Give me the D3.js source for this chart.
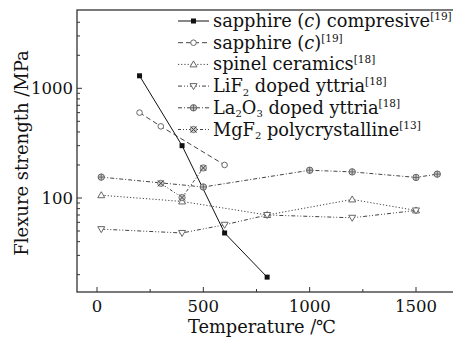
<!DOCTYPE html>
<html>
<head>
<meta charset="utf-8">
<style>
  body { margin: 0; background: #fff; }
  svg { display: block; }
  text { font-family: "DejaVu Serif", "Liberation Serif", serif; fill: #111; }
</style>
<script src="https://cdn.jsdelivr.net/npm/d3@7"></script>
</head>
<body>
<svg id="main"></svg>
<script>
  // data (temperature in C, strength in MPa)
  const compT = [200, 400, 600, 800]
  const compS = [1300, 300, 48, 19]
  const sappT = [200, 300, 600]
  const sappS = [600, 450, 200]
  const spinelT = [20, 400, 800, 1200, 1500]
  const spinelS = [106, 93, 70, 97, 77]
  const lifT = [20, 400, 600, 800, 1200, 1500]
  const lifS = [52, 48, 57, 70, 66, 77]
  const laT = [20, 500, 1000, 1200, 1500, 1600]
  const laS = [155, 126, 179, 173, 154, 165]
  const mgT = [300, 400, 500]
  const mgS = [136, 101, 188]

  const xTicks = [0, 500, 1000, 1500]
  const yTicks = [100, 1000]

  const width = 453, height = 337
  const svg = d3.select("#main").attr("width", width).attr("height", height)

  const x = d3.scaleLinear().domain([0, 1500]).range([97, 416])
  const y = d3.scaleLog().domain([100, 1000]).range([198, 88.3])
  const pLeft = 77, pRight = 470, pTop = 10, pBottom = 292

  const series = [
    {T: compT, S: compS, dash: null, marker: "square", label: ["sapphire (", "c", ") compresive"], ref: "[19]"},
    {T: sappT, S: sappS, dash: "5,3", marker: "circle", label: ["sapphire (", "c", ")"], ref: "[19]"},
    {T: spinelT, S: spinelS, dash: "1.2,2", marker: "tri", label: ["spinel ceramics"], ref: "[18]"},
    {T: lifT, S: lifS, dash: "4,2,1,2,1,2", marker: "tridown", label: ["LiF", "2", " doped yttria"], ref: "[18]", sub: true},
    {T: laT, S: laS, dash: "4,2,1,2", marker: "cross", label: ["La", "2", "O", "3", " doped yttria"], ref: "[18]", sub: true},
    {T: mgT, S: mgS, dash: "3,2,1,2,1,2", marker: "xcirc", label: ["MgF", "2", " polycrystalline"], ref: "[13]", sub: true}
  ]

  // frame
  svg.append("rect").attr("x", pLeft).attr("y", pTop)
    .attr("width", pRight - pLeft).attr("height", pBottom - pTop)
    .attr("fill", "none").attr("stroke", "#333").attr("stroke-width", 1.3)

  // x ticks (inward)
  const xMinor = [250, 750, 1250]
  svg.append("g").selectAll("line").data(xTicks.concat(xMinor)).join("line")
    .attr("x1", d => x(d)).attr("x2", d => x(d))
    .attr("y1", pBottom).attr("y2", d => pBottom - (xTicks.includes(d) ? 5 : 3))
    .attr("stroke", "#333").attr("stroke-width", 1)
  svg.append("g").selectAll("text").data(xTicks).join("text")
    .attr("x", d => x(d)).attr("y", 312)
    .attr("text-anchor", "middle").attr("font-size", 16.5)
    .text(d => d)

  // y ticks (inward), minor log ticks
  const yMinor = []
  for (let e = 10; e <= 1000; e *= 10)
    for (let k = 2; k <= 9; k++) {
      const v = k * e
      if (y(v) > pTop + 2 && y(v) < pBottom - 2) yMinor.push(v)
    }
  svg.append("g").selectAll("line").data(yTicks.concat(yMinor)).join("line")
    .attr("x1", pLeft).attr("x2", d => pLeft + (yTicks.includes(d) ? 5 : 3))
    .attr("y1", d => y(d)).attr("y2", d => y(d))
    .attr("stroke", "#333").attr("stroke-width", 1)
  svg.append("g").selectAll("text").data(yTicks).join("text")
    .attr("x", 73).attr("y", d => y(d)).attr("dy", "0.36em")
    .attr("text-anchor", "end").attr("font-size", 16.5)
    .text(d => d)

  // axis titles
  svg.append("text").attr("x", 262).attr("y", 333)
    .attr("text-anchor", "middle").attr("font-size", 17.8)
    .text("Temperature /\u2103")
  svg.append("text").attr("transform", "translate(28,153) rotate(-90)")
    .attr("text-anchor", "middle").attr("font-size", 18)
    .text("Flexure strength /MPa")

  function drawMarker(g, type, cx, cy) {
    const c = "#666"
    if (type === "square") {
      g.append("rect").attr("x", cx - 2.5).attr("y", cy - 2.5).attr("width", 5).attr("height", 5).attr("fill", "#111")
    } else if (type === "circle") {
      g.append("circle").attr("cx", cx).attr("cy", cy).attr("r", 2.8).attr("fill", "#fff").attr("stroke", c).attr("stroke-width", 1)
    } else if (type === "tri") {
      g.append("path").attr("d", `M${cx},${cy - 3.5}L${cx + 3.5},${cy + 2.5}L${cx - 3.5},${cy + 2.5}Z`)
        .attr("fill", "#fff").attr("stroke", c).attr("stroke-width", 1)
    } else if (type === "tridown") {
      g.append("path").attr("d", `M${cx},${cy + 3.5}L${cx + 3.5},${cy - 2.5}L${cx - 3.5},${cy - 2.5}Z`)
        .attr("fill", "#fff").attr("stroke", c).attr("stroke-width", 1)
    } else if (type === "cross") {
      g.append("circle").attr("cx", cx).attr("cy", cy).attr("r", 3.2).attr("fill", "#ccc").attr("stroke", c).attr("stroke-width", 1)
      g.append("path").attr("d", `M${cx - 3.2},${cy}H${cx + 3.2}M${cx},${cy - 3.2}V${cy + 3.2}`).attr("stroke", c).attr("stroke-width", 1)
    } else if (type === "xcirc") {
      g.append("circle").attr("cx", cx).attr("cy", cy).attr("r", 3.2).attr("fill", "#ccc").attr("stroke", c).attr("stroke-width", 0.8)
      g.append("path").attr("d", `M${cx - 3},${cy - 3}L${cx + 3},${cy + 3}M${cx - 3},${cy + 3}L${cx + 3},${cy - 3}`).attr("stroke", "#444").attr("stroke-width", 1)
    }
  }

  const line = d3.line().x(d => x(d[0])).y(d => y(d[1]))
  const plot = svg.append("g")
  series.forEach(s => {
    const pts = s.T.map((t, i) => [t, s.S[i]])
    plot.append("path").attr("d", line(pts))
      .attr("fill", "none")
      .attr("stroke", s.marker === "square" ? "#111" : "#444")
      .attr("stroke-width", 1)
      .attr("stroke-dasharray", s.dash)
  })
  series.forEach(s => {
    const g = plot.append("g")
    s.T.forEach((t, i) => drawMarker(g, s.marker, x(t), y(s.S[i])))
  })

  // legend
  const leg = svg.append("g")
  series.forEach((s, i) => {
    const by = 27 + i * 21.7
    const my = by - 6
    leg.append("line").attr("x1", 178).attr("x2", 209).attr("y1", my).attr("y2", my)
      .attr("stroke", s.marker === "square" ? "#111" : "#444").attr("stroke-width", 1)
      .attr("stroke-dasharray", s.dash)
    drawMarker(leg, s.marker, 193.5, my)
    const t = leg.append("text").attr("x", 213).attr("y", by).attr("font-size", 17.8)
    if (s.sub) {
      s.label.forEach((part, j) => {
        if (j % 2 === 1) t.append("tspan").attr("font-size", 10).attr("dy", 3.5).text(part)
        else t.append("tspan").attr("dy", j === 0 ? 0 : -3.5).text(part)
      })
    } else {
      s.label.forEach((part, j) => {
        const ts = t.append("tspan").text(part)
        if (j === 1) ts.attr("font-style", "italic")
      })
    }
    t.append("tspan").attr("font-size", 10.5).attr("dy", -7).text(s.ref)
  })
</script>
</body>
</html>
